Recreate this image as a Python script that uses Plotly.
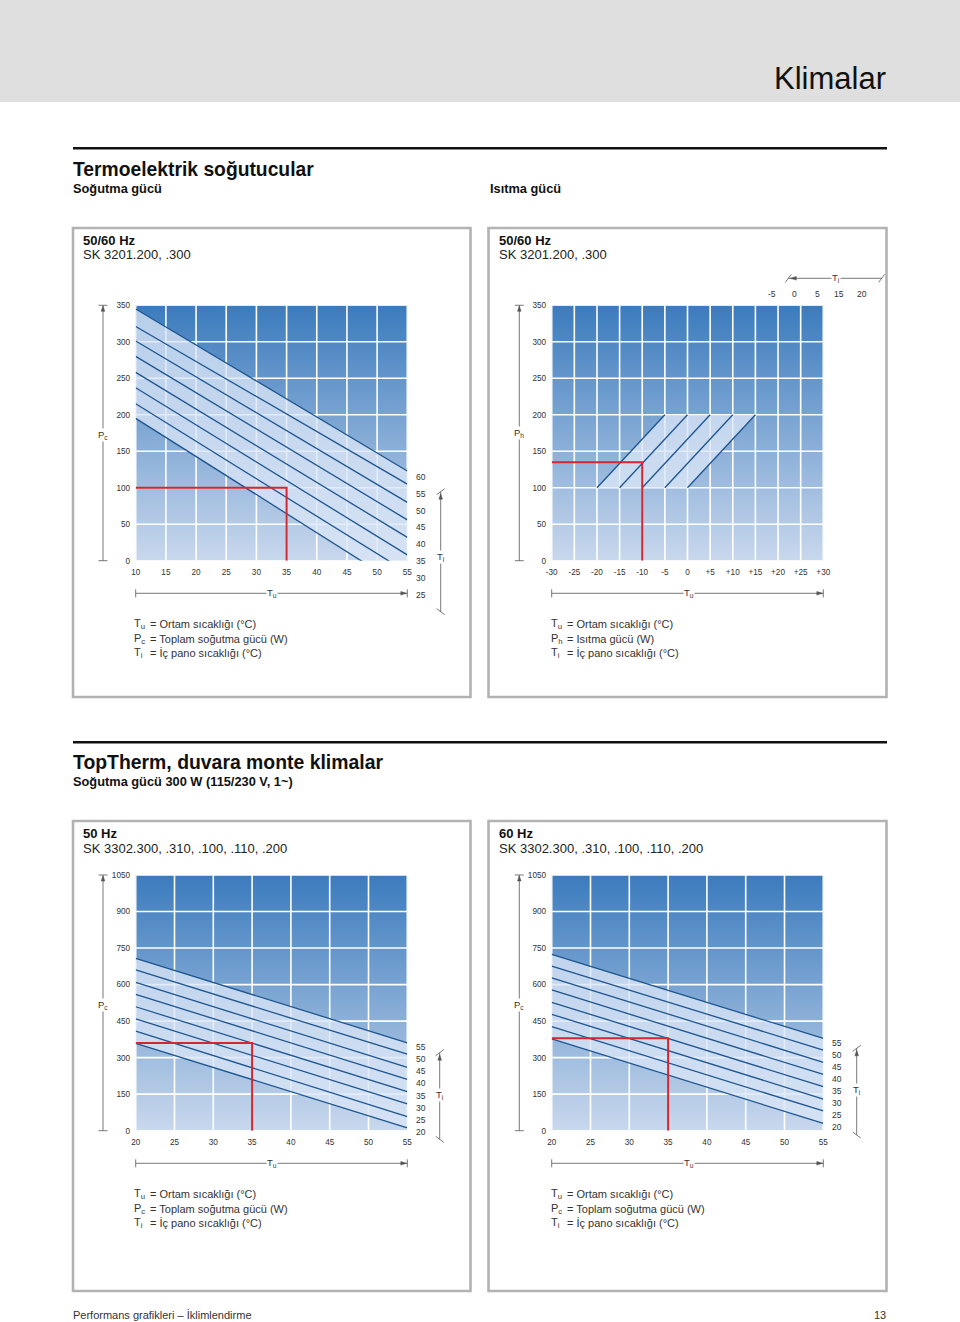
import plotly.graph_objects as go

W, H = 960, 1322

# ---------------- data ----------------
# Chart 1 : Termoelektrik soğutucular – soğutma gücü
c1_tu = [10, 15, 20, 25, 30, 35, 40, 45, 50, 55]
c1_pc = [0, 50, 100, 150, 200, 250, 300, 350]
c1_ti = ["60", "55", "50", "45", "40", "35", "30", "25"]
c1_pc_at_tumin = [345, 321, 301, 280, 258, 237, 215, 195]   # Pc at Tu = 10
c1_pc_at_tumax = [123, 105, 80, 56, 32, 8, -16, -40]        # Pc at Tu = 55 (<0 runs off chart)
c1_ref = (35, 100)

# Chart 2 : Isıtma gücü
c2_tu = [-30, -25, -20, -15, -10, -5, 0, 5, 10, 15, 20, 25, 30]
c2_tu_text = ["-30", "-25", "-20", "-15", "-10", "-5", "0", "+5", "+10", "+15", "+20", "+25", "+30"]
c2_ph = [0, 50, 100, 150, 200, 250, 300, 350]
c2_ti = ["-5", "0", "5", "15", "20"]
c2_tu_at_ph_lo = [-20, -15, -10, -5, 0]
c2_tu_at_ph_hi = [-5, 0, 5, 10, 15]
c2_ph_lo_hi = [100, 200]
c2_ref = (-10, 135)

# Chart 3 : TopTherm 50 Hz
c3_tu = [20, 25, 30, 35, 40, 45, 50, 55]
c3_pc = [0, 150, 300, 450, 600, 750, 900, 1050]
c3_ti = ["55", "50", "45", "40", "35", "30", "25", "20"]
c3_pc_at_tumin = [708, 660, 609, 560, 509, 459, 409, 359]
c3_pc_at_tumax = [361, 314, 260, 211, 160, 110, 58, 12]
c3_ref = (35, 360)

# Chart 4 : TopTherm 60 Hz
c4_tu = [20, 25, 30, 35, 40, 45, 50, 55]
c4_pc = [0, 150, 300, 450, 600, 750, 900, 1050]
c4_ti = ["55", "50", "45", "40", "35", "30", "25", "20"]
c4_pc_at_tumin = [724, 676, 628, 578, 527, 478, 427, 377]
c4_pc_at_tumax = [379, 331, 281, 231, 181, 130, 81, 30]
c4_ref = (35, 380)

# ---------------- styles ----------------
FONT = "Liberation Sans, Arial, Helvetica, sans-serif"
BG_BOTTOM = "#c9d8ed"
BG_TOP = "#3b7bbd"
BAND = "rgba(218,230,246,0.78)"
LINE = "#1d5590"
RED = "#d3262e"
DIM = "#555555"
TXT = "#333333"


def fx(px):
    return px / W


def fy(py):
    return 1 - py / H


fig = go.Figure()

# plot-area pixel boxes (left, top, right, bottom)
boxes = {
    1: (135.7, 305.3, 407.3, 560.7),
    2: (551.7, 305.3, 823.3, 560.7),
    3: (135.7, 875.0, 407.3, 1130.7),
    4: (551.7, 875.0, 823.3, 1130.7),
}


def axis_names(i):
    return ("x", "y") if i == 1 else (f"x{i}", f"y{i}")


def add_panel(i, xt, yt, lines_x, lines_y, ref):
    xa, ya = axis_names(i)
    x0, x1 = xt[0], xt[-1]
    y0, y1 = yt[0], yt[-1]
    common = dict(xaxis=xa, yaxis=ya, hoverinfo="skip", showlegend=False)
    # gradient background
    fig.add_trace(go.Scatter(
        x=[x0, x1, x1, x0, x0], y=[y0, y0, y1, y1, y0], mode="lines",
        fill="toself", line=dict(width=0, color="rgba(0,0,0,0)"),
        fillgradient=dict(type="vertical", colorscale=[[0, BG_BOTTOM], [1, BG_TOP]]),
        **common))
    # grid
    gx, gy = [], []
    for v in xt:
        gx += [v, v, None]
        gy += [y0, y1, None]
    for v in yt:
        gx += [x0, x1, None]
        gy += [v, v, None]
    fig.add_trace(go.Scatter(x=gx, y=gy, mode="lines",
                             line=dict(color="white", width=1.6), **common))
    # light band between first and last curve
    bx = list(lines_x[0]) + list(reversed(lines_x[-1])) + [lines_x[0][0]]
    by = list(lines_y[0]) + list(reversed(lines_y[-1])) + [lines_y[0][0]]
    fig.add_trace(go.Scatter(x=bx, y=by, mode="lines", fill="toself",
                             fillcolor=BAND, line=dict(width=0, color="rgba(0,0,0,0)"),
                             **common))
    for lx, ly in zip(lines_x, lines_y):
        fig.add_trace(go.Scatter(x=lx, y=ly, mode="lines",
                                 line=dict(color=LINE, width=1.3), **common))
    # red reading example
    fig.add_trace(go.Scatter(x=[x0, ref[0], ref[0]], y=[ref[1], ref[1], y0],
                             mode="lines", line=dict(color=RED, width=2), **common))


add_panel(1, c1_tu, c1_pc,
          [[c1_tu[0], c1_tu[-1]] for _ in c1_pc_at_tumin],
          [[a, b] for a, b in zip(c1_pc_at_tumin, c1_pc_at_tumax)], c1_ref)
add_panel(2, c2_tu, c2_ph,
          [[a, b] for a, b in zip(c2_tu_at_ph_lo, c2_tu_at_ph_hi)],
          [c2_ph_lo_hi for _ in c2_tu_at_ph_lo], c2_ref)
add_panel(3, c3_tu, c3_pc,
          [[c3_tu[0], c3_tu[-1]] for _ in c3_pc_at_tumin],
          [[a, b] for a, b in zip(c3_pc_at_tumin, c3_pc_at_tumax)], c3_ref)
add_panel(4, c4_tu, c4_pc,
          [[c4_tu[0], c4_tu[-1]] for _ in c4_pc_at_tumin],
          [[a, b] for a, b in zip(c4_pc_at_tumin, c4_pc_at_tumax)], c4_ref)

# axes
axis_style = dict(showgrid=False, zeroline=False, showline=False, fixedrange=True,
                  automargin=False,
                  ticks="outside", ticklen=3, tickcolor="rgba(0,0,0,0)",
                  tickfont=dict(size=8.2, color=TXT, family=FONT))
ticks = {1: (c1_tu, None, c1_pc), 2: (c2_tu, c2_tu_text, c2_ph),
         3: (c3_tu, None, c3_pc), 4: (c4_tu, None, c4_pc)}
layout_axes = {}
for i, (l, t, r, b) in boxes.items():
    xt, xtext, yt = ticks[i]
    xa, ya = axis_names(i)
    xkey = "xaxis" if i == 1 else f"xaxis{i}"
    ykey = "yaxis" if i == 1 else f"yaxis{i}"
    layout_axes[xkey] = dict(domain=[fx(l), fx(r)], range=[xt[0], xt[-1]], anchor=ya,
                             tickvals=xt, ticktext=xtext if xtext else [str(v) for v in xt],
                             **axis_style)
    layout_axes[ykey] = dict(domain=[fy(b), fy(t)], range=[yt[0], yt[-1]], anchor=xa,
                             tickvals=yt, ticktext=[str(v) for v in yt], **axis_style)

shapes = []
annotations = []


def line(x0, y0, x1, y1, color=DIM, width=0.8):
    shapes.append(dict(type="line", xref="paper", yref="paper", x0=fx(x0), y0=fy(y0),
                       x1=fx(x1), y1=fy(y1), line=dict(color=color, width=width)))


def tri(pts, color=DIM):
    path = "M " + " L ".join(f"{fx(x)},{fy(y)}" for x, y in pts) + " Z"
    shapes.append(dict(type="path", xref="paper", yref="paper", path=path,
                       fillcolor=color, line=dict(color=color, width=0.5)))


def txt(x, y, s, size=11, xanchor="left", color=TXT, bg=None, yanchor="middle"):
    annotations.append(dict(x=fx(x), y=fy(y), xref="paper", yref="paper", text=s,
                            showarrow=False, xanchor=xanchor, yanchor=yanchor,
                            font=dict(size=size, color=color, family=FONT),
                            bgcolor=bg, borderpad=0))


# header band + rules + panel frames
shapes.append(dict(type="rect", xref="paper", yref="paper", x0=0, x1=1, y0=fy(102), y1=1,
                   fillcolor="#dfdfdf", line=dict(width=0), layer="below"))
line(73, 148.3, 887, 148.3, color="#111111", width=2.6)
line(73, 742.3, 887, 742.3, color="#111111", width=2.6)
for (l, t, r, b) in [(73, 228, 470.5, 697), (488.5, 228, 886.5, 697),
                     (73, 821, 470.5, 1291), (488.5, 821, 886.5, 1291)]:
    shapes.append(dict(type="rect", xref="paper", yref="paper", x0=fx(l), x1=fx(r),
                       y0=fy(b), y1=fy(t), line=dict(color="#b2b2b2", width=2.6)))


def vdim(x, y0, y1, label, ly, caps="flat"):
    line(x, y0, x, y1)
    if caps == "flat":
        line(x - 4.5, y0, x + 4.5, y0)
        line(x - 4.5, y1, x + 4.5, y1)
        tri([(x, y0 + 0.8), (x - 1.8, y0 + 6), (x + 1.8, y0 + 6)])
    else:
        line(x - 4, y0 + 3, x + 4, y0 - 3)
        line(x - 4, y1 - 3, x + 4, y1 + 3)
        tri([(x, y0 + 2), (x - 1.8, y0 + 7.5), (x + 1.8, y0 + 7.5)])
    txt(x, ly, label, size=9.5, xanchor="center", bg="white")


def hdim(y, x0, x1, label, lx, arrow="right", caps="flat"):
    line(x0, y, x1, y)
    if caps == "flat":
        line(x0, y - 4, x0, y + 4)
        line(x1, y - 4, x1, y + 4)
    else:
        line(x0 - 3, y + 4, x0 + 3, y - 4)
        line(x1 - 3, y + 4, x1 + 3, y - 4)
    if arrow == "right":
        tri([(x1 - 0.8, y), (x1 - 6.5, y - 1.8), (x1 - 6.5, y + 1.8)])
    else:
        tri([(x0 + 2, y), (x0 + 8, y - 1.8), (x0 + 8, y + 1.8)])
    txt(lx, y, label, size=9.5, xanchor="center", bg="white")


# chart 1 decorations
vdim(103, 305.3, 560.7, "P<sub>c</sub>", 435)
hdim(593.3, 135.7, 407.3, "T<sub>u</sub>", 272)
vdim(440.7, 491.7, 611.7, "T<sub>i</sub>", 556.7, caps="slant")
for k, s in enumerate(c1_ti):
    txt(420.7, 477.0 + k * 16.8, s, size=8.5, xanchor="center")

# chart 2 decorations
vdim(519.3, 305.3, 560.7, "P<sub>h</sub>", 433.3)
hdim(593.3, 551.7, 823.3, "T<sub>u</sub>", 689)
hdim(278.3, 788.3, 881.7, "T<sub>i</sub>", 835.7, arrow="left", caps="slant")
for k, s in enumerate(c2_ti):
    txt(772.3 + k * 22.35, 294.3, s, size=8.5, xanchor="center")

# chart 3 decorations
vdim(103, 875.0, 1130.7, "P<sub>c</sub>", 1005)
hdim(1163.3, 135.7, 407.3, "T<sub>u</sub>", 272)
vdim(439.7, 1052.7, 1139.3, "T<sub>i</sub>", 1095, caps="slant")
for k, s in enumerate(c3_ti):
    txt(420.5, 1047.3 + k * 12.05, s, size=8.5, xanchor="center")

# chart 4 decorations
vdim(519.3, 875.0, 1130.7, "P<sub>c</sub>", 1005)
hdim(1163.3, 551.7, 823.3, "T<sub>u</sub>", 689)
vdim(856.7, 1048.3, 1135.0, "T<sub>i</sub>", 1090, caps="slant")
for k, s in enumerate(c4_ti):
    txt(837.3, 1042.7 + k * 12.0, s, size=8.5, xanchor="center")

# page texts
txt(887, 78, "Klimalar", size=31, xanchor="right", color="#111111")
txt(72, 169.5, "<b>Termoelektrik soğutucular</b>", size=19.3, color="#111111")
txt(72, 188.5, "<b>Soğutma gücü</b>", size=12.8, color="#111111")
txt(489, 188.5, "<b>Isıtma gücü</b>", size=12.8, color="#111111")
txt(82, 240, "<b>50/60 Hz</b>", size=13, color="#111111")
txt(82, 254.5, "SK 3201.200, .300", size=13, color="#222222")
txt(497.5, 240, "<b>50/60 Hz</b>", size=13, color="#111111")
txt(497.5, 254.5, "SK 3201.200, .300", size=13, color="#222222")

txt(72, 762, "<b>TopTherm, duvara monte klimalar</b>", size=19.4, color="#111111")
txt(72, 781, "<b>Soğutma gücü 300 W (115/230 V, 1~)</b>", size=12.8, color="#111111")
txt(82, 833.5, "<b>50 Hz</b>", size=13, color="#111111")
txt(82, 848, "SK 3302.300, .310, .100, .110, .200", size=13, color="#222222")
txt(497.5, 833.5, "<b>60 Hz</b>", size=13, color="#111111")
txt(497.5, 848, "SK 3302.300, .310, .100, .110, .200", size=13, color="#222222")


def legend(x, y, rows):
    for k, (sym, desc) in enumerate(rows):
        txt(x, y + k * 14.7, sym, size=11)
        txt(x + 16, y + k * 14.7, "= " + desc, size=11)


legend(133, 624, [("T<sub>u</sub>", "Ortam sıcaklığı (°C)"),
                  ("P<sub>c</sub>", "Toplam soğutma gücü (W)"),
                  ("T<sub>i</sub>", "İç pano sıcaklığı (°C)")])
legend(549.5, 624, [("T<sub>u</sub>", "Ortam sıcaklığı (°C)"),
                    ("P<sub>h</sub>", "Isıtma gücü (W)"),
                    ("T<sub>i</sub>", "İç pano sıcaklığı (°C)")])
legend(133, 1194, [("T<sub>u</sub>", "Ortam sıcaklığı (°C)"),
                   ("P<sub>c</sub>", "Toplam soğutma gücü (W)"),
                   ("T<sub>i</sub>", "İç pano sıcaklığı (°C)")])
legend(549.5, 1194, [("T<sub>u</sub>", "Ortam sıcaklığı (°C)"),
                     ("P<sub>c</sub>", "Toplam soğutma gücü (W)"),
                     ("T<sub>i</sub>", "İç pano sıcaklığı (°C)")])

txt(72, 1315, "Performans grafikleri – İklimlendirme", size=11)
txt(887, 1315, "13", size=11, xanchor="right")

fig.update_layout(width=W, height=H,
                  margin=dict(l=0, r=0, t=0, b=0, pad=0, autoexpand=False),
                  paper_bgcolor="white", plot_bgcolor="rgba(0,0,0,0)",
                  showlegend=False, font=dict(family=FONT, color=TXT),
                  shapes=shapes, annotations=annotations, **layout_axes)

fig.write_html("out.html",
               config={"displayModeBar": False, "staticPlot": True},
               post_script="document.body.style.margin='0';document.body.style.overflow='hidden';")
